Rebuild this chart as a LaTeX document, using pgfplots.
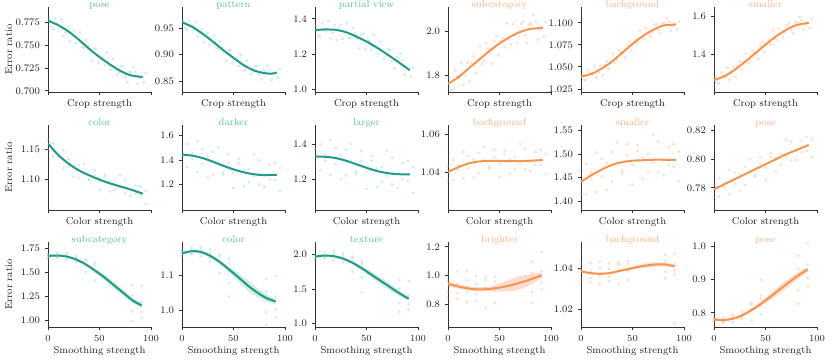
\documentclass[border=0pt]{standalone}
\usepackage{pgfplots}
\pgfplotsset{compat=1.18}

\definecolor{tealL}{HTML}{1F9A86}
\definecolor{tealT}{HTML}{5EC0A8}
\definecolor{tealP}{HTML}{66C2A5}
\definecolor{orangeL}{HTML}{F5964F}
\definecolor{orangeT}{HTML}{FDB48C}
\definecolor{orangeP}{HTML}{FC8D62}
\definecolor{axcol}{HTML}{333333}
\definecolor{labcol}{HTML}{222222}
\newcommand\fs{\fontsize{7.5}{9}\selectfont}

\pgfplotsset{
  base/.style={scale only axis, width=77.25pt, height=63.75pt, anchor=south west,
    xmin=0, xmax=100, xtick={0,50,100}, scaled y ticks=false,
    axis x line*=bottom, axis y line*=left, tick align=outside,
    major tick length=2.6pt,
    axis line style={-, line width=0.6pt, draw=axcol},
    major tick style={line width=0.6pt, draw=axcol},
    tick label style={font=\fs, text=labcol},
    label style={font=\fs, text=labcol},
    title style={font=\fs, at={(axis description cs:0.5,1)}, anchor=north,
      yshift=2.4pt, text height=5pt, text depth=1.5pt},
    ylabel style={at={(axis description cs:-0.302,0.5)}, anchor=south}},
  toprow/.style={xticklabels={},
    xlabel style={at={(axis description cs:0.5,0)}, anchor=north, yshift=-2pt}},
  botrow/.style={xlabel={Smoothing strength},
    xlabel style={at={(axis description cs:0.5,0)}, anchor=north, yshift=-11pt}},
  tealax/.style={title style={text=tealT}},
  orangeax/.style={title style={text=orangeT}},
  pts/.style={only marks, mark=*, mark size=0.95pt, color=#1, opacity=0.2},
  curve/.style={smooth, line width=1.5pt, color=#1},
  band/.style={fill=#1, fill opacity=0.3, draw=none},
}

\begin{document}
\begin{tikzpicture}
\useasboundingbox (0,0) rectangle (623.25pt,-270pt);

% ---------------- row 1: crop ----------------
\begin{axis}[base, toprow, tealax, at={(36pt,-69pt)}, xlabel={Crop strength},
  ylabel={Error ratio}, title={pose}, ymin=0.6986, ymax=0.792,
  ytick={0.700,0.725,0.750,0.775}, yticklabels={0.700,0.725,0.750,0.775}]
\addplot[pts=tealP] coordinates {
 (1,0.780)(5,0.768)(9,0.774)(13,0.778)(17,0.764)(21,0.754)(25,0.766)(29,0.758)
 (33,0.748)(37,0.756)(41,0.743)(45,0.746)(49,0.730)(53,0.737)(57,0.742)(61,0.723)
 (65,0.7255)(69,0.720)(73,0.727)(77,0.709)(81,0.720)(85,0.721)(89,0.714)(93,0.709)
 (3,0.7705)(7,0.7795)(11,0.7697)(15,0.760)(19,0.7703)(23,0.7638)(27,0.752)(31,0.764)
 (35,0.7474)(39,0.7494)(43,0.733)(47,0.746)(51,0.7372)(55,0.728)(59,0.7285)(63,0.7346)
 (67,0.7174)(71,0.727)(75,0.7163)(79,0.721)(83,0.726)(87,0.7077)(91,0.7156)(95,0.7192)};
\addplot[curve=tealL] coordinates {
 (0,0.777)(10,0.772)(20,0.765)(30,0.756)(40,0.746)(50,0.737)(60,0.729)(70,0.722)(80,0.717)(92,0.715)};
\end{axis}

\begin{axis}[base, toprow, tealax, at={(136.5pt,-69pt)}, xlabel={Crop strength},
  title={pattern}, ymin=0.829, ymax=0.991,
  ytick={0.85,0.90,0.95}, yticklabels={0.85,0.90,0.95}]
\addplot[pts=tealP] coordinates {
 (1,0.966)(5,0.948)(9,0.956)(13,0.962)(17,0.940)(21,0.924)(25,0.941)(29,0.927)
 (33,0.913)(37,0.925)(41,0.905)(45,0.908)(49,0.884)(53,0.893)(57,0.900)(61,0.871)
 (65,0.875)(69,0.867)(73,0.878)(77,0.853)(81,0.869)(85,0.871)(89,0.863)(93,0.857)
 (3,0.952)(7,0.965)(11,0.949)(15,0.934)(19,0.948)(23,0.938)(27,0.919)(31,0.937)
 (35,0.912)(39,0.914)(43,0.889)(47,0.908)(51,0.894)(55,0.879)(59,0.879)(63,0.889)
 (67,0.863)(71,0.878)(75,0.8625)(79,0.871)(83,0.879)(87,0.852)(91,0.866)(95,0.873)};
\addplot[curve=tealL] coordinates {
 (0,0.962)(10,0.953)(20,0.940)(30,0.925)(40,0.909)(50,0.894)(60,0.880)(70,0.870)(80,0.865)(87,0.864)(92,0.866)};
\end{axis}

\begin{axis}[base, toprow, tealax, at={(236.25pt,-69pt)}, xlabel={Crop strength},
  title={partial view}, ymin=0.987, ymax=1.467,
  ytick={1.0,1.2,1.4}, yticklabels={1.0,1.2,1.4}]
\addplot[pts=tealP] coordinates {
 (1,1.358)(5,1.300)(9,1.347)(13,1.389)(17,1.321)(21,1.281)(25,1.364)(29,1.330)
 (33,1.290)(37,1.350)(41,1.287)(45,1.311)(49,1.229)(53,1.276)(57,1.311)(61,1.203)
 (65,1.219)(69,1.190)(73,1.227)(77,1.120)(81,1.174)(85,1.167)(89,1.116)(93,1.071)
 (3,1.306)(7,1.375)(11,1.330)(15,1.290)(19,1.366)(23,1.346)(27,1.288)(31,1.376)
 (35,1.292)(39,1.317)(43,1.232)(47,1.319)(51,1.276)(55,1.227)(59,1.234)(63,1.272)
 (67,1.173)(71,1.228)(75,1.162)(79,1.185)(83,1.204)(87,1.085)(91,1.118)(95,1.122)};
\addplot[curve=tealL] coordinates {
 (0,1.337)(10,1.340)(20,1.338)(30,1.325)(40,1.300)(50,1.272)(60,1.238)(70,1.200)(80,1.160)(92,1.110)};
\end{axis}

\begin{axis}[base, toprow, orangeax, at={(336pt,-69pt)}, xlabel={Crop strength},
  title={subcategory}, ymin=1.722, ymax=2.113,
  ytick={1.8,2.0}, yticklabels={1.8,2.0}]
\addplot[pts=orangeP] coordinates {
 (1,1.787)(5,1.731)(9,1.795)(13,1.858)(17,1.798)(21,1.770)(25,1.886)(29,1.870)
 (33,1.850)(37,1.946)(41,1.902)(45,1.956)(49,1.890)(53,1.970)(57,2.038)(61,1.942)
 (65,1.987)(69,1.980)(73,2.046)(77,1.948)(81,2.033)(85,2.046)(89,2.008)(93,1.977)
 (3,1.733)(7,1.821)(11,1.782)(15,1.754)(19,1.858)(23,1.854)(27,1.810)(31,1.934)
 (35,1.866)(39,1.922)(43,1.853)(47,1.979)(51,1.956)(55,1.928)(59,1.964)(63,2.034)
 (67,1.947)(71,2.036)(75,1.985)(79,2.035)(83,2.077)(87,1.963)(91,2.021)(95,2.045)};
\addplot[curve=orangeL] coordinates {
 (0,1.760)(10,1.790)(20,1.830)(30,1.870)(40,1.910)(50,1.945)(60,1.975)(70,1.998)(80,2.012)(92,2.017)};
\end{axis}

\begin{axis}[base, toprow, orangeax, at={(435.75pt,-69pt)}, xlabel={Crop strength},
  title={background}, ymin=1.0215, ymax=1.118,
  ytick={1.025,1.050,1.075,1.100}, yticklabels={1.025,1.050,1.075,1.100}]
\addplot[pts=orangeP] coordinates {
 (1,1.0423)(5,1.035)(9,1.0427)(13,1.0508)(17,1.0437)(21,1.0408)(25,1.0565)(29,1.0557)
 (33,1.055)(37,1.069)(41,1.0655)(45,1.0745)(49,1.0685)(53,1.0807)(57,1.0913)(61,1.0812)
 (65,1.0885)(69,1.0893)(73,1.099)(77,1.088)(81,1.0997)(85,1.1015)(89,1.0968)(93,1.093)
 (3,1.0351)(7,1.0461)(11,1.0411)(15,1.038)(19,1.0515)(23,1.0519)(27,1.0476)(31,1.0645)
 (35,1.058)(39,1.067)(43,1.0605)(47,1.0785)(51,1.078)(55,1.0765)(59,1.083)(63,1.0936)
 (67,1.0844)(71,1.097)(75,1.092)(79,1.0995)(83,1.1053)(87,1.0912)(91,1.0985)(95,1.1015)};
\addplot[curve=orangeL] coordinates {
 (0,1.039)(10,1.042)(20,1.048)(30,1.056)(40,1.066)(50,1.076)(60,1.085)(70,1.092)(80,1.097)(92,1.098)};
\end{axis}

\begin{axis}[base, toprow, orangeax, at={(535.5pt,-69pt)}, xlabel={Crop strength},
  title={smaller}, ymin=1.202, ymax=1.648,
  ytick={1.4,1.6}, yticklabels={1.4,1.6}]
\addplot[pts=orangeP] coordinates {
 (1,1.281)(5,1.247)(9,1.288)(13,1.330)(17,1.2955)(21,1.282)(25,1.3615)(29,1.3585)
 (33,1.3535)(37,1.4215)(41,1.402)(45,1.445)(49,1.413)(53,1.473)(57,1.525)(61,1.474)
 (65,1.5105)(69,1.5145)(73,1.563)(77,1.508)(81,1.5665)(85,1.578)(89,1.557)(93,1.540)
 (3,1.2475)(7,1.304)(11,1.281)(15,1.2665)(19,1.3345)(23,1.3375)(27,1.317)(31,1.402)
 (35,1.3675)(39,1.4105)(43,1.376)(47,1.464)(51,1.4595)(55,1.4515)(59,1.4835)(63,1.536)
 (67,1.490)(71,1.553)(75,1.528)(79,1.5655)(83,1.596)(87,1.5275)(91,1.5665)(95,1.5835)};
\addplot[curve=orangeL] coordinates {
 (0,1.264)(10,1.285)(20,1.318)(30,1.360)(40,1.405)(50,1.450)(60,1.493)(70,1.528)(80,1.553)(92,1.565)};
\end{axis}

% ---------------- row 2: color ----------------
\begin{axis}[base, toprow, tealax, at={(36pt,-157.5pt)}, xlabel={Color strength},
  ylabel={Error ratio}, title={color}, ymin=1.0505, ymax=1.189,
  ytick={1.10,1.15}, yticklabels={1.10,1.15}]
\addplot[pts=tealP] coordinates {
 (0,1.165)(5,1.138)(10,1.142)(15,1.147)(20,1.121)(25,1.1045)(30,1.124)(35,1.112)(40,1.099)(45,1.1155)
 (50,1.097)(55,1.104)(60,1.081)(65,1.0955)(70,1.107)(75,1.0775)(80,1.084)(85,1.077)(90,1.089)(95,1.0605)
 (0,1.150)(5,1.159)(10,1.137)(15,1.119)(20,1.134)(25,1.1235)(30,1.103)(35,1.126)(40,1.101)(45,1.1075)
 (50,1.083)(55,1.108)(60,1.096)(65,1.0835)(70,1.087)(75,1.0995)(80,1.073)(85,1.090)(90,1.073)(95,1.0815)};
\addplot[curve=tealL] coordinates {
 (0,1.159)(10,1.140)(20,1.126)(30,1.115)(40,1.107)(50,1.100)(60,1.094)(70,1.089)(80,1.084)(92,1.077)};
\end{axis}

\begin{axis}[base, toprow, tealax, at={(136.5pt,-157.5pt)}, xlabel={Color strength},
  title={darker}, ymin=0.988, ymax=1.687,
  ytick={1.2,1.4,1.6}, yticklabels={1.2,1.4,1.6}]
\addplot[pts=tealP] coordinates {
 (0,1.498)(5,1.341)(10,1.453)(15,1.552)(20,1.370)(25,1.256)(30,1.466)(35,1.377)(40,1.280)(45,1.445)
 (50,1.295)(55,1.373)(60,1.181)(65,1.326)(70,1.444)(75,1.197)(80,1.275)(85,1.240)(90,1.376)(95,1.144)
 (0,1.363)(5,1.530)(10,1.408)(15,1.300)(20,1.487)(25,1.427)(30,1.277)(35,1.503)(40,1.298)(45,1.373)
 (50,1.169)(55,1.409)(60,1.316)(65,1.218)(70,1.264)(75,1.395)(80,1.176)(85,1.357)(90,1.232)(95,1.333)};
\addplot[curve=tealL] coordinates {
 (0,1.444)(10,1.435)(20,1.415)(30,1.385)(40,1.352)(50,1.322)(60,1.298)(70,1.282)(80,1.275)(92,1.278)};
\end{axis}

\begin{axis}[base, toprow, tealax, at={(236.25pt,-157.5pt)}, xlabel={Color strength},
  title={larger}, ymin=1.026, ymax=1.507,
  ytick={1.2,1.4}, yticklabels={1.2,1.4}]
\addplot[pts=tealP] coordinates {
 (0,1.371)(5,1.251)(10,1.341)(15,1.422)(20,1.285)(25,1.201)(30,1.368)(35,1.302)(40,1.229)(45,1.359)
 (50,1.244)(55,1.305)(60,1.156)(65,1.269)(70,1.361)(75,1.169)(80,1.229)(85,1.200)(90,1.304)(95,1.122)
 (0,1.266)(5,1.398)(10,1.306)(15,1.226)(20,1.376)(25,1.334)(30,1.221)(35,1.400)(40,1.243)(45,1.303)
 (50,1.146)(55,1.333)(60,1.261)(65,1.185)(70,1.221)(75,1.323)(80,1.152)(85,1.291)(90,1.192)(95,1.269)};
\addplot[curve=tealL] coordinates {
 (0,1.329)(10,1.327)(20,1.320)(30,1.305)(40,1.285)(50,1.265)(60,1.247)(70,1.235)(80,1.229)(92,1.227)};
\end{axis}

\begin{axis}[base, toprow, orangeax, at={(336pt,-157.5pt)}, xlabel={Color strength},
  title={background}, ymin=1.020, ymax=1.0647,
  ytick={1.04,1.06}, yticklabels={1.04,1.06}]
\addplot[pts=orangeP] coordinates {
 (0,1.043)(5,1.0358)(10,1.0435)(15,1.0506)(20,1.042)(25,1.037)(30,1.050)(35,1.0462)(40,1.0418)(45,1.0518)
 (50,1.0443)(55,1.0493)(60,1.0392)(65,1.0477)(70,1.0547)(75,1.0413)(80,1.0459)(85,1.044)(90,1.0517)(95,1.0389)
 (0,1.0355)(5,1.0463)(10,1.041)(15,1.0366)(20,1.0485)(25,1.0465)(30,1.0395)(35,1.0532)(40,1.0428)(45,1.0478)
 (50,1.0373)(55,1.0513)(60,1.0467)(65,1.0417)(70,1.0447)(75,1.0523)(80,1.0404)(85,1.0505)(90,1.0437)(95,1.0494)};
\addplot[curve=orangeL] coordinates {
 (0,1.040)(10,1.0425)(20,1.0445)(30,1.0455)(40,1.0458)(50,1.0458)(60,1.0457)(70,1.0457)(80,1.0459)(92,1.0463)};
\end{axis}

\begin{axis}[base, toprow, orangeax, at={(435.75pt,-157.5pt)}, xlabel={Color strength},
  title={smaller}, ymin=1.381, ymax=1.562,
  ytick={1.40,1.45,1.50,1.55}, yticklabels={1.40,1.45,1.50,1.55}]
\addplot[pts=orangeP] coordinates {
 (0,1.459)(5,1.415)(10,1.461)(15,1.503)(20,1.452)(25,1.424)(30,1.504)(35,1.483)(40,1.459)(45,1.521)
 (50,1.477)(55,1.5075)(60,1.448)(65,1.4995)(70,1.542)(75,1.461)(80,1.488)(85,1.476)(90,1.521)(95,1.443)
 (0,1.414)(5,1.478)(10,1.446)(15,1.419)(20,1.491)(25,1.481)(30,1.441)(35,1.525)(40,1.465)(45,1.497)
 (50,1.435)(55,1.5195)(60,1.493)(65,1.4635)(70,1.482)(75,1.527)(80,1.455)(85,1.515)(90,1.473)(95,1.506)};
\addplot[curve=orangeL] coordinates {
 (0,1.441)(10,1.455)(20,1.467)(30,1.477)(40,1.483)(50,1.486)(60,1.487)(70,1.488)(80,1.488)(92,1.488)};
\end{axis}

\begin{axis}[base, toprow, orangeax, at={(535.5pt,-157.5pt)}, xlabel={Color strength},
  title={pose}, ymin=0.7645, ymax=0.824,
  ytick={0.78,0.80,0.82}, yticklabels={0.78,0.80,0.82}]
\addplot[pts=orangeP] coordinates {
 (0,0.7826)(5,0.7741)(10,0.7836)(15,0.7925)(20,0.7828)(25,0.7779)(30,0.7946)(35,0.7915)(40,0.7878)(45,0.8015)
 (50,0.7942)(55,0.8019)(60,0.7916)(65,0.8035)(70,0.8136)(75,0.7991)(80,0.806)(85,0.8051)(90,0.8156)(95,0.8015)
 (0,0.7736)(5,0.7867)(10,0.7806)(15,0.7757)(20,0.7906)(25,0.7893)(30,0.782)(35,0.7999)(40,0.789)(45,0.7967)
 (50,0.7858)(55,0.8043)(60,0.8006)(65,0.7963)(70,0.8016)(75,0.8123)(80,0.7994)(85,0.8129)(90,0.806)(95,0.8141)};
\addplot[curve=orangeL] coordinates {
 (0,0.779)(10,0.7825)(20,0.786)(30,0.7895)(40,0.793)(50,0.7965)(60,0.800)(70,0.8035)(80,0.8065)(92,0.810)};
\end{axis}

% ---------------- row 3: smoothing ----------------
\begin{axis}[base, botrow, tealax, at={(36pt,-245.25pt)},
  ylabel={Error ratio}, title={subcategory}, ymin=0.93, ymax=1.817,
  ytick={1.00,1.25,1.50,1.75}, yticklabels={1.00,1.25,1.50,1.75}]
\addplot[pts=tealP] coordinates {
 (0,1.692)(0,1.656)(0,1.678)(0,1.644)(9.1,1.664)(9.1,1.702)(9.1,1.654)(9.1,1.680)
 (18.2,1.702)(18.2,1.657)(18.2,1.682)(18.2,1.635)(27.3,1.605)(27.3,1.650)(27.3,1.671)(27.3,1.623)
 (36.4,1.625)(36.4,1.505)(36.4,1.590)(36.4,1.640)(45.5,1.504)(45.5,1.600)(45.5,1.416)(45.5,1.568)
 (81.8,1.366)(81.8,1.093)(81.8,1.262)(81.8,0.989)(90.9,1.090)(90.9,1.363)(90.9,1.025)(90.9,1.194)};
\addplot[band=tealP] coordinates {
 (0,1.682)(9.1,1.686)(18.2,1.675)(27.3,1.647)(36.4,1.600)(45.5,1.540)(54.5,1.480)(63.6,1.405)(72.7,1.325)(81.8,1.240)(90.9,1.180)
 (90.9,1.130)(81.8,1.180)(72.7,1.255)(63.6,1.335)(54.5,1.420)(45.5,1.500)(36.4,1.570)(27.3,1.623)(18.2,1.655)(9.1,1.666)(0,1.662)} -- cycle;
\addplot[curve=tealL] coordinates {
 (0,1.672)(9.1,1.676)(18.2,1.665)(27.3,1.635)(36.4,1.585)(45.5,1.520)(54.5,1.450)(63.6,1.370)(72.7,1.290)(81.8,1.210)(90.9,1.155)};
\end{axis}

\begin{axis}[base, botrow, tealax, at={(136.5pt,-245.25pt)},
  title={color}, ymin=0.954, ymax=1.194,
  ytick={1.0,1.1}, yticklabels={1.0,1.1}]
\addplot[pts=tealP] coordinates {
 (0,1.170)(0,1.156)(0,1.164)(0,1.151)(9.1,1.163)(9.1,1.178)(9.1,1.159)(9.1,1.170)
 (18.2,1.181)(18.2,1.163)(18.2,1.173)(18.2,1.154)(27.3,1.140)(27.3,1.163)(27.3,1.173)(27.3,1.149)
 (36.4,1.154)(36.4,1.106)(36.4,1.140)(36.4,1.160)(45.5,1.111)(45.5,1.147)(45.5,1.078)(45.5,1.135)(45.5,1.040)
 (81.8,1.090)(81.8,0.996)(81.8,1.054)(81.8,0.960)(90.9,1.004)(90.9,1.098)(90.9,0.981)(90.9,1.040)};
\addplot[band=tealP] coordinates {
 (0,1.166)(9.1,1.172)(18.2,1.170)(27.3,1.160)(36.4,1.144)(45.5,1.125)(54.5,1.107)(63.6,1.086)(72.7,1.065)(81.8,1.046)(90.9,1.034)
 (90.9,1.018)(81.8,1.026)(72.7,1.039)(63.6,1.058)(54.5,1.083)(45.5,1.109)(36.4,1.132)(27.3,1.150)(18.2,1.162)(9.1,1.164)(0,1.158)} -- cycle;
\addplot[curve=tealL] coordinates {
 (0,1.162)(9.1,1.168)(18.2,1.166)(27.3,1.155)(36.4,1.138)(45.5,1.117)(54.5,1.095)(63.6,1.072)(72.7,1.052)(81.8,1.036)(90.9,1.026)};
\end{axis}

\begin{axis}[base, botrow, tealax, at={(236.25pt,-245.25pt)},
  title={texture}, ymin=0.951, ymax=2.18,
  ytick={1.0,1.5,2.0}, yticklabels={1.0,1.5,2.0}]
\addplot[pts=tealP] coordinates {
 (0,1.998)(0,1.944)(0,1.977)(0,1.926)(9.1,1.960)(9.1,2.036)(9.1,1.940)(9.1,1.992)
 (18.2,2.050)(18.2,1.960)(18.2,2.010)(18.2,1.915)(27.3,1.880)(27.3,1.970)(27.3,2.012)(27.3,1.916)
 (36.4,1.944)(36.4,1.752)(36.4,1.888)(36.4,1.968)(45.5,1.780)(45.5,1.900)(45.5,1.670)(45.5,1.860)(45.5,1.450)
 (81.8,1.632)(81.8,1.296)(81.8,1.504)(81.8,1.168)(90.9,1.280)(90.9,1.616)(90.9,1.200)(90.9,1.408)};
\addplot[band=tealP] coordinates {
 (0,1.983)(9.1,1.999)(18.2,1.990)(27.3,1.958)(36.4,1.902)(45.5,1.830)(54.5,1.755)(63.6,1.670)(72.7,1.580)(81.8,1.480)(90.9,1.390)
 (90.9,1.330)(81.8,1.400)(72.7,1.480)(63.6,1.570)(54.5,1.665)(45.5,1.770)(36.4,1.858)(27.3,1.922)(18.2,1.960)(9.1,1.969)(0,1.953)} -- cycle;
\addplot[curve=tealL] coordinates {
 (0,1.968)(9.1,1.984)(18.2,1.975)(27.3,1.940)(36.4,1.880)(45.5,1.800)(54.5,1.710)(63.6,1.620)(72.7,1.530)(81.8,1.440)(90.9,1.360)};
\end{axis}

\begin{axis}[base, botrow, orangeax, at={(336pt,-245.25pt)},
  title={brighter}, ymin=0.64, ymax=1.233,
  ytick={0.8,1.0,1.2}, yticklabels={0.8,1.0,1.2}]
\addplot[pts=orangeP] coordinates {
 (0,1.011)(0,0.885)(0,0.962)(0,0.843)(9.1,0.876)(9.1,1.028)(9.1,0.836)(9.1,0.940)
 (18.2,1.031)(18.2,0.887)(18.2,0.967)(18.2,0.815)(27.3,0.823)(27.3,0.943)(27.3,0.999)(27.3,0.871)
 (36.4,0.967)(36.4,0.775)(36.4,0.911)(36.4,0.991)(45.5,0.894)(45.5,0.990)(45.5,0.806)(45.5,0.958)
 (81.8,1.097)(81.8,0.887)(81.8,1.017)(81.8,0.807)(90.9,0.950)(90.9,1.160)(90.9,0.900)(90.9,1.030)};
\addplot[band=orangeP] coordinates {
 (0,0.961)(9.1,0.939)(18.2,0.926)(27.3,0.918)(36.4,0.918)(45.5,0.930)(54.5,0.956)(63.6,0.981)(72.7,1.000)(81.8,1.012)(90.9,1.020)
 (90.9,0.980)(81.8,0.942)(72.7,0.910)(63.6,0.891)(54.5,0.886)(45.5,0.890)(36.4,0.888)(27.3,0.888)(18.2,0.896)(9.1,0.909)(0,0.921)} -- cycle;
\addplot[curve=orangeL] coordinates {
 (0,0.941)(9.1,0.924)(18.2,0.911)(27.3,0.903)(36.4,0.903)(45.5,0.910)(54.5,0.921)(63.6,0.936)(72.7,0.955)(81.8,0.977)(90.9,1.000)};
\end{axis}

\begin{axis}[base, botrow, orangeax, at={(435.75pt,-245.25pt)},
  title={background}, ymin=1.0112, ymax=1.0532,
  ytick={1.02,1.04}, yticklabels={1.02,1.04}]
\addplot[pts=orangeP] coordinates {
 (0,1.0427)(0,1.0355)(0,1.0399)(0,1.0331)(9.1,1.0354)(9.1,1.043)(9.1,1.0334)(9.1,1.0386)
 (18.2,1.0435)(18.2,1.0363)(18.2,1.0403)(18.2,1.0327)(27.3,1.0338)(27.3,1.0398)(27.3,1.0426)(27.3,1.0362)
 (36.4,1.042)(36.4,1.0324)(36.4,1.0392)(36.4,1.0432)(45.5,1.039)(45.5,1.0438)(45.5,1.0346)(45.5,1.0422)
 (81.8,1.0469)(81.8,1.0385)(81.8,1.0437)(81.8,1.0353)(90.9,1.0392)(90.9,1.0476)(90.9,1.0372)(90.9,1.0424)(90.9,1.013)};
\addplot[band=orangeP] coordinates {
 (0,1.0393)(9.1,1.0383)(18.2,1.0380)(27.3,1.0383)(36.4,1.0393)(45.5,1.0404)(54.5,1.0417)(63.6,1.0427)(72.7,1.0432)(81.8,1.0430)(90.9,1.0418)
 (90.9,1.0406)(81.8,1.0412)(72.7,1.0410)(63.6,1.0405)(54.5,1.0399)(45.5,1.0392)(36.4,1.0383)(27.3,1.0373)(18.2,1.0370)(9.1,1.0373)(0,1.0381)} -- cycle;
\addplot[curve=orangeL] coordinates {
 (0,1.0387)(9.1,1.0378)(18.2,1.0375)(27.3,1.0378)(36.4,1.0388)(45.5,1.0398)(54.5,1.0408)(63.6,1.0416)(72.7,1.0421)(81.8,1.0421)(90.9,1.0412)};
\end{axis}

\begin{axis}[base, botrow, orangeax, at={(535.5pt,-245.25pt)},
  title={pose}, ymin=0.757, ymax=1.014,
  ytick={0.8,0.9,1.0}, yticklabels={0.8,0.9,1.0}]
\addplot[pts=orangeP] coordinates {
 (0,0.786)(0,0.775)(0,0.782)(0,0.772)(9.1,0.774)(9.1,0.786)(9.1,0.771)(9.1,0.779)
 (18.2,0.794)(18.2,0.780)(18.2,0.788)(18.2,0.772)(27.3,0.780)(27.3,0.798)(27.3,0.806)(27.3,0.787)
 (36.4,0.824)(36.4,0.776)(36.4,0.810)(36.4,0.830)(45.5,0.822)(45.5,0.852)(45.5,0.795)(45.5,0.842)(45.5,0.900)
 (81.8,0.973)(81.8,0.868)(81.8,0.933)(81.8,0.828)(90.9,0.906)(90.9,1.011)(90.9,0.881)(90.9,0.946)};
\addplot[band=orangeP] coordinates {
 (0,0.784)(9.1,0.781)(18.2,0.785)(27.3,0.796)(36.4,0.813)(45.5,0.834)(54.5,0.858)(63.6,0.882)(72.7,0.904)(81.8,0.923)(90.9,0.939)
 (90.9,0.923)(81.8,0.903)(72.7,0.880)(63.6,0.858)(54.5,0.838)(45.5,0.820)(36.4,0.803)(27.3,0.788)(18.2,0.779)(9.1,0.775)(0,0.776)} -- cycle;
\addplot[curve=orangeL] coordinates {
 (0,0.780)(9.1,0.778)(18.2,0.782)(27.3,0.792)(36.4,0.808)(45.5,0.827)(54.5,0.848)(63.6,0.870)(72.7,0.892)(81.8,0.913)(90.9,0.931)};
\end{axis}
\end{tikzpicture}
\end{document}
